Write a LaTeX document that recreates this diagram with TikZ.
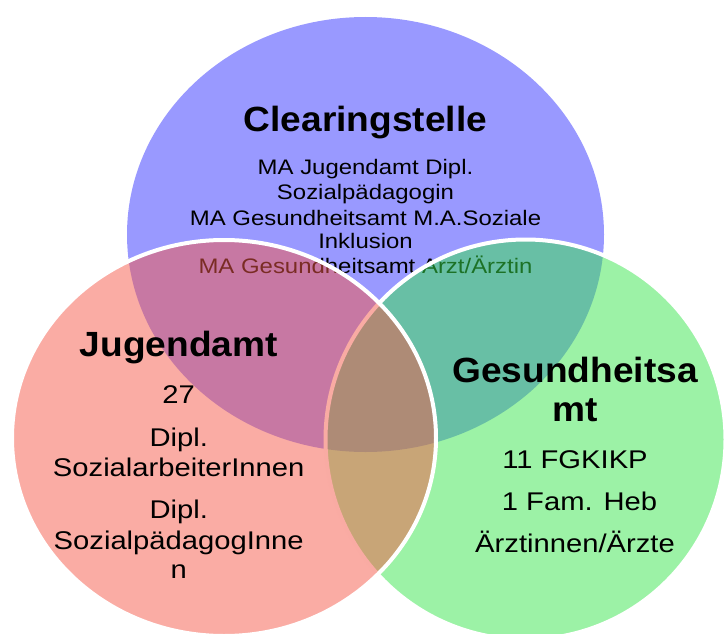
\documentclass[tikz,border=0pt]{standalone}
\usepackage{fontspec}
\setmainfont{Liberation Sans}
\newfontfamily\bodyfont[FakeStretch=1.14]{Liberation Sans}
\newfontfamily\titlefont[FakeStretch=1.06]{Liberation Sans}
\definecolor{cblue}{RGB}{153,153,255}
\definecolor{cred}{RGB}{245,89,73}
\definecolor{cgreen}{RGB}{57,229,77}
\tikzset{
  ttl/.style={anchor=base, inner sep=0pt, font=\titlefont\bfseries\fontsize{35}{40}\selectfont},
  sbody/.style={anchor=base, inner sep=0pt, font=\bodyfont\fontsize{21}{25}\selectfont},
  cbody/.style={anchor=base, inner sep=0pt, font=\bodyfont\fontsize{25.6}{30}\selectfont},
  vset/.style={fill opacity=0.5, draw=white, draw opacity=1, line width=4pt}
}
\begin{document}
\begin{tikzpicture}[x=1pt,y=-1pt]
\useasboundingbox (0,0) rectangle (725,634);
\clip (0,0) rectangle (725,634);
% blue set
\fill[cblue] (365.5,234.5) ellipse [x radius=238.5, y radius=217.5];
\node[ttl] (ct) at (365.5,131.5) {Clearingstelle};
\node[sbody] (c1) at (365.5,174) {MA Jugendamt Dipl.};
\node[sbody] (c2) at (365.5,199) {Sozialpädagogin};
\node[sbody] (c3) at (365.5,225) {MA Gesundheitsamt M.A.Soziale};
\node[sbody] (c4) at (365.5,248) {Inklusion};
\node[sbody] (c5) at (365.5,273) {MA Gesundheitsamt Arzt/Ärztin};
% green set
\path[vset, fill=cgreen] (525.5,439.5) circle [radius=200];
% red set
\path[vset, fill=cred] (224,438) ellipse [x radius=212, y radius=198];
% red texts
\node[ttl] (jt) at (178.7,356.7) {Jugendamt};
\node[cbody] (j1) at (178.7,403) {27};
\node[cbody] (j2) at (178.7,446) {Dipl.};
\node[cbody] (j3) at (178.7,476.7) {SozialarbeiterInnen};
\node[cbody] (j4) at (178.7,518) {Dipl.};
\node[cbody] (j5) at (178.7,549) {SozialpädagogInne};
\node[cbody] (j6) at (178.7,578) {n};
% green texts
\node[ttl] (gt1) at (575,382.7) {Gesundheitsa};
\node[ttl] (gt2) at (575,421.7) {mt};
\node[cbody] (g1) at (575,468) {11 FGKIKP};
\node[cbody] (g2) at (579.5,510.7) {1 Fam. Heb};
\node[cbody] (g3) at (575,552.7) {Ärztinnen/Ärzte};
\end{tikzpicture}
\end{document}
